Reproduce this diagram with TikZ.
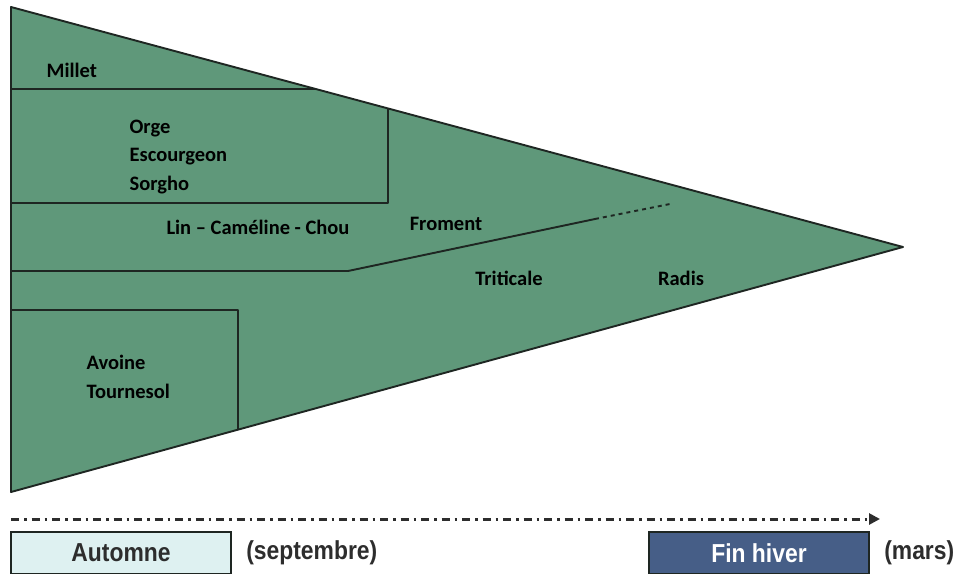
\documentclass[tikz,border=0pt]{standalone}
\usepackage{fontspec}
\setmainfont{Carlito}
\newfontfamily\legendfont[FakeStretch=0.88]{Liberation Sans}
\usetikzlibrary{arrows.meta, positioning}
\definecolor{cropgreen}{RGB}{95,152,122}
\definecolor{edgegray}{RGB}{30,38,34}
\definecolor{autumnfill}{RGB}{222,241,241}
\definecolor{winterfill}{RGB}{70,94,135}
\definecolor{legendgray}{RGB}{45,45,45}

\begin{document}
\begin{tikzpicture} [x=1pt, y=-1pt, semithick,
	zone/.style ={draw=edgegray, line width=1.9pt, line join=round},
	crop/.style ={font=\bfseries\fontsize{20.5}{28.5}\selectfont, align=left, text=black},
	period/.style ={draw=edgegray, line width=1.8pt, minimum width=220pt, minimum height=42pt,
		inner sep=0pt, font=\legendfont\bfseries\fontsize{26}{28}\selectfont},
	legend/.style ={text=legendgray, font=\legendfont\bfseries\fontsize{26}{28}\selectfont, inner sep=0pt}]
	\useasboundingbox (0,0) rectangle (960,573);
	% triangle
	\coordinate (top) at (11,7);
	\coordinate (bot) at (11,492);
	\coordinate (tip) at (903,247);
	\fill[cropgreen] (top) -- (tip) -- (bot) -- cycle;
	\draw[zone] (top) -- (tip) -- (bot) -- cycle;
	% separations
	\draw[zone] (11,89) -- (315.8,89);
	\draw[zone] (388,108.4) -- (388,203) -- (11,203);
	\draw[zone] (11,271) -- (348,271) -- (595,219);
	\draw[zone, dash pattern=on 4pt off 4pt] (595,219) -- (670,204);
	\draw[zone] (11,310) -- (238,310) -- (238,429.7);
	% crops
	\node[crop, anchor=west] (millet) at (43,70) {Millet};
	\node[crop, anchor=west] (orge) at (126,157) {Orge\\Escourgeon\\Sorgho};
	\node[crop] (lin) at (258,227) {Lin -- Caméline - Chou};
	\node[crop] (froment) at (446,224) {Froment};
	\node[crop] (triticale) at (509,278) {Triticale};
	\node[crop] (radis) at (681,278) {Radis};
	\node[crop, anchor=west] (avoine) at (83,377) {Avoine\\Tournesol};
	% time line
	\coordinate (start) at (11,519);
	\coordinate (end) at (880,519);
	\draw[legendgray, line width=3pt, dash pattern=on 8pt off 5pt on 2.5pt off 5pt, -{Triangle[length=11pt, width=11pt]}] (start) -- (end);
	\node[period, fill=autumnfill, text=legendgray] (automne) at (121,553) {Automne};
	\node[legend, anchor=west] (septembre) at (246,553) {(septembre)};
	\node[period, fill=winterfill, text=white] (hiver) at (759,553) {Fin hiver};
	\node[legend, anchor=west] (mars) at (884,553) {(mars)};
\end{tikzpicture}
\end{document}
